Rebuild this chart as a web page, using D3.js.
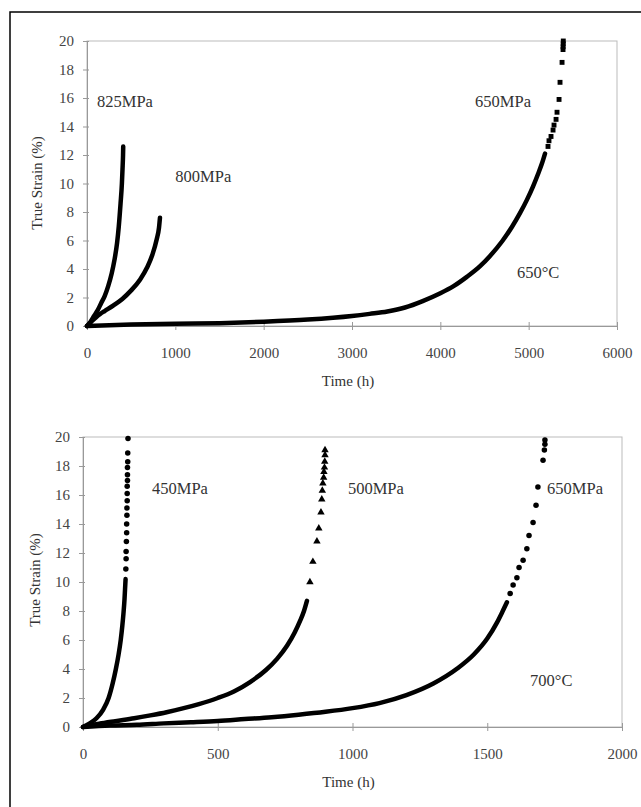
<!DOCTYPE html>
<html>
<head>
<meta charset="utf-8">
<script src="https://cdn.jsdelivr.net/npm/d3@7"></script>
<style>
	body { margin: 0; background: white; }
	text { font-family: "Liberation Serif", "DejaVu Serif", serif; fill: #333; }
	.axis path, .axis line { stroke: #999; }
</style>
</head>
<body>
<svg id="creep-plot" width="641" height="807"></svg>
<script>

// ---- 650°C panel (time in h, true strain in %)
const top825Line = [[0,0],[40,0.3],[80,0.7],[120,1.1],[160,1.6],[200,2.1],[240,2.8],[280,3.7],[310,4.6],[340,5.8],[360,7.0],[380,8.6],[395,10.0],[402,11.0],[408,12.0],[410,12.6]];
const top800Line = [[0,0],[50,0.3],[100,0.6],[150,0.85],[200,1.05],[300,1.45],[400,1.9],[500,2.5],[600,3.25],[680,4.1],[740,5.0],[790,6.1],[815,6.9],[826,7.6]];
const top650Line = [[0,0],[500,0.1],[1000,0.15],[1500,0.2],[2000,0.3],[2500,0.45],[3000,0.7],[3200,0.85],[3400,1.02],[3600,1.3],[3800,1.75],[4000,2.3],[4150,2.8],[4300,3.45],[4450,4.2],[4560,4.9],[4700,5.95],[4810,6.95],[4900,7.9],[4980,8.85],[5050,9.8],[5105,10.65],[5150,11.4],[5185,12.1]];
const top650Dots = [[5219,12.6],[5230,13.0],[5253,13.3],[5276,13.75],[5287,14.1],[5310,14.5],[5321,15.0],[5344,15.9],[5355,17.1],[5378,18.5],[5389,19.4],[5390,19.6],[5391,19.8],[5392,20.0]];

// ---- 700°C panel
const bot450Line = [[0,0],[25,0.25],[50,0.6],[75,1.2],[95,2.0],[110,3.0],[122,4.0],[132,5.0],[140,6.0],[146,7.0],[150,7.8],[154,8.8],[156,9.5],[158,10.2]];
const bot450Dots = [[159,10.9],[160,11.6],[160,12.1],[161,12.8],[162,13.4],[162,14.0],[163,14.6],[163,15.1],[164,15.6],[164,16.1],[164,16.6],[165,17.0],[165,17.4],[165,17.9],[166,18.3],[166,18.9],[167,19.9]];
const bot500Line = [[0,0],[60,0.22],[120,0.4],[190,0.6],[250,0.8],[310,1.02],[370,1.28],[430,1.58],[500,2.0],[560,2.45],[620,3.1],[680,3.95],[720,4.7],[757,5.6],[785,6.5],[805,7.3],[820,8.0],[831,8.7]];
const bot500Dots = [[842,10.0],[853,11.4],[868,12.8],[875,13.7],[883,14.8],[886,15.7],[888,16.3],[890,16.8],[893,17.2],[894,17.6],[896,17.9],[897,18.3],[898,18.75],[898,19.1]];
const bot650Line = [[0,0],[100,0.1],[200,0.15],[300,0.25],[400,0.33],[500,0.42],[600,0.55],[700,0.68],[800,0.85],[900,1.05],[1000,1.3],[1100,1.65],[1200,2.2],[1300,3.0],[1390,4.05],[1450,5.0],[1500,6.1],[1536,7.2],[1555,7.9],[1573,8.6]];
const bot650Dots = [[1585,9.2],[1596,9.8],[1610,10.3],[1618,11.0],[1633,11.5],[1647,12.3],[1655,13.2],[1670,14.1],[1681,15.3],[1688,16.55],[1707,18.4],[1712,19.1],[1714,19.5],[1714,19.8]];

const strainTicks = [0, 2, 4, 6, 8, 10, 12, 14, 16, 18, 20];
const topTimeTicks = [0, 1000, 2000, 3000, 4000, 5000, 6000];
const botTimeTicks = [0, 500, 1000, 1500, 2000];

// label text, time and strain where the label sits
const topLabels = [["825MPa", 113, 15.8], ["800MPa", 1000, 10.5], ["650MPa", 4393, 15.8], ["650°C", 4868, 3.8]];
const botLabels = [["450MPa", 256, 16.5], ["500MPa", 983, 16.5], ["650MPa", 1722, 16.5], ["700°C", 1659, 3.25]];

const svg = d3.select("#creep-plot");

// outer frame (picture is cropped at right and bottom)
svg.append("rect")
	.attr("x", 10).attr("y", 12)
	.attr("width", 700).attr("height", 900)
	.style("fill", "white")
	.style("stroke", "black")
	.style("stroke-width", 1.5);

function drawPanel(box, xMax, xTicks, series, labels) {

	const x = d3.scaleLinear().domain([0, xMax]).range([box.left, box.right]);
	const y = d3.scaleLinear().domain([0, 20]).range([box.bottom, box.top]);

	const g = svg.append("g");

	// plot frame
	g.append("rect")
		.attr("x", box.left).attr("y", box.top)
		.attr("width", box.right - box.left)
		.attr("height", box.bottom - box.top)
		.style("fill", "none")
		.style("stroke", "#bbb");

	const xAxis = g.append("g")
		.classed("axis", true)
		.attr("transform", "translate(0," + box.bottom + ")")
		.call(d3.axisBottom(x).tickValues(xTicks).tickFormat(d3.format("d")).tickSize(4).tickPadding(17));
	xAxis.selectAll(".tick line").attr("y1", -4);

	const yAxis = g.append("g")
		.classed("axis", true)
		.attr("transform", "translate(" + box.left + ",0)")
		.call(d3.axisLeft(y).tickValues(strainTicks).tickSize(4).tickPadding(9));
	yAxis.selectAll(".tick line").attr("x1", 2);

	g.selectAll(".axis text")
		.style("font-size", "15px")
		.style("font-family", '"Liberation Serif", serif')
		.style("fill", "#444");
	g.selectAll(".axis .domain").style("stroke", "#999");

	const line = d3.line()
		.x(d => x(d[0]))
		.y(d => y(d[1]))
		.curve(d3.curveMonotoneX);

	series.forEach(s => {
		g.append("path")
			.datum(s.line)
			.attr("d", line)
			.style("fill", "none")
			.style("stroke", "black")
			.style("stroke-width", 4.5)
			.style("stroke-linecap", "round");

		g.selectAll(null)
			.data(s.dots)
			.enter()
			.append("path")
			.attr("transform", d => "translate(" + x(d[0]) + "," + y(d[1]) + ")")
			.attr("d", d3.symbol().type(s.symbol).size(24))
			.style("fill", "black");
	});

	g.selectAll(null)
		.data(labels)
		.enter()
		.append("text")
		.attr("x", d => x(d[1]))
		.attr("y", d => y(d[2]))
		.attr("dy", ".35em")
		.style("font-size", "16.5px")
		.text(d => d[0]);

	g.append("text")
		.attr("x", (box.left + box.right) / 2 - 4)
		.attr("y", box.bottom + 60)
		.attr("text-anchor", "middle")
		.style("font-size", "15px")
		.text("Time (h)");

	g.append("text")
		.attr("transform", "translate(" + box.yTitleX + "," + box.yTitleY + ") rotate(-90)")
		.attr("text-anchor", "middle")
		.attr("dy", ".35em")
		.style("font-size", "15px")
		.text("True Strain (%)");
}

drawPanel({left: 87, right: 617, top: 41, bottom: 326, yTitleX: 37, yTitleY: 183},
	6000, topTimeTicks,
	[{line: top825Line, dots: [], symbol: d3.symbolSquare},
	 {line: top800Line, dots: [], symbol: d3.symbolSquare},
	 {line: top650Line, dots: top650Dots, symbol: d3.symbolSquare}],
	topLabels);

drawPanel({left: 83, right: 622, top: 437, bottom: 727, yTitleX: 35, yTitleY: 580},
	2000, botTimeTicks,
	[{line: bot450Line, dots: bot450Dots, symbol: d3.symbolCircle},
	 {line: bot500Line, dots: bot500Dots, symbol: d3.symbolTriangle},
	 {line: bot650Line, dots: bot650Dots, symbol: d3.symbolCircle}],
	botLabels);

</script>
</body>
</html>
